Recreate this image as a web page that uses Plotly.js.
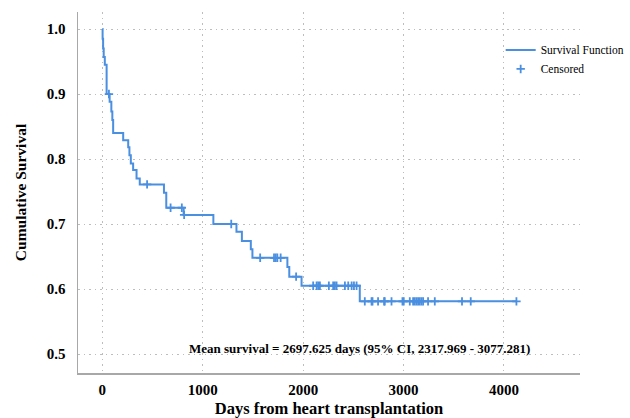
<!DOCTYPE html>
<html>
<head>
<meta charset="utf-8">
<script src="https://cdn.plot.ly/plotly-3.0.1.min.js"></script>
<style>html,body{margin:0;padding:0;background:#fff;}#chart{width:630px;height:418px;}</style>
</head>
<body>
<div id="chart"></div>
<script>
// Kaplan-Meier step data (event day, survival after that day)
const eventDays = [0, 3, 8, 14, 25, 43, 73, 90, 100, 108, 208, 258, 270, 284, 307, 341, 373, 614, 637, 810, 1106, 1336, 1390, 1479, 1495, 1843, 1862, 1984, 2564, 4124];
const survival  = [1.0, 0.985, 0.97, 0.957, 0.945, 0.9, 0.888, 0.873, 0.86, 0.84, 0.829, 0.818, 0.806, 0.793, 0.783, 0.770, 0.761, 0.748, 0.725, 0.714, 0.700, 0.688, 0.674, 0.661, 0.648, 0.634, 0.619, 0.605, 0.581, 0.581];

// Censored observations
const censoredDays = [66, 446, 680, 792, 815, 1284, 1572, 1710, 1727, 1743, 1776, 1930,
  2100, 2134, 2150, 2167, 2256, 2299, 2316, 2333, 2416, 2449, 2483, 2506, 2532,
  2614, 2681, 2691, 2746, 2806, 2813, 2880, 2989, 3002, 3062, 3095, 3112, 3129, 3145, 3162, 3179, 3195, 3244, 3311, 3582, 3669, 4124];
const censoredSurv = [0.9, 0.761, 0.725, 0.725, 0.714, 0.700, 0.648, 0.648, 0.648, 0.648, 0.648, 0.619,
  0.605, 0.605, 0.605, 0.605, 0.605, 0.605, 0.605, 0.605, 0.605, 0.605, 0.605, 0.605, 0.605,
  0.581, 0.581, 0.581, 0.581, 0.581, 0.581, 0.581, 0.581, 0.581, 0.581, 0.581, 0.581, 0.581, 0.581, 0.581, 0.581, 0.581, 0.581, 0.581, 0.581, 0.581, 0.581];

const xTicks = [0, 1000, 2000, 3000, 4000];
const yTicks = [0.5, 0.6, 0.7, 0.8, 0.9, 1.0];
const annotationText = "Mean survival = 2697.625 days (95% CI, 2317.969 - 3077.281)";

const blue = '#4a8fe0';
const serif = '"Liberation Serif", "Times New Roman", serif';

const traces = [
  {
    x: eventDays, y: survival, type: 'scatter', mode: 'lines',
    line: {shape: 'hv', color: blue, width: 2},
    name: 'Survival Function'
  },
  {
    x: censoredDays, y: censoredSurv, type: 'scatter', mode: 'markers',
    marker: {symbol: 'cross-thin', size: 6, line: {color: blue, width: 1.8}, color: blue},
    name: 'Censored'
  }
];

const layout = {
  width: 630, height: 418,
  margin: {l: 78, r: 50, t: 12, b: 45, autoexpand: false},
  paper_bgcolor: '#fff', plot_bgcolor: '#fff',
  showlegend: true,
  legend: {x: 0.842, y: 0.935, xanchor: 'left', yanchor: 'top', bgcolor: 'rgba(0,0,0,0)',
    font: {family: serif, size: 11.5, color: '#000'}, tracegroupgap: 0, itemwidth: 30},
  xaxis: {
    range: [-242, 4757], tickvals: xTicks, ticktext: xTicks.map(String),
    showgrid: true, gridcolor: '#bdbdbd', griddash: '1.5px,4px', gridwidth: 1,
    zeroline: false, showline: true, linecolor: '#a8a8a8', linewidth: 1.5,
    ticks: 'outside', ticklen: 2, tickcolor: 'rgba(0,0,0,0)',
    tickfont: {family: serif, size: 15, color: '#000', weight: 'bold'},
    title: {text: '<b>Days from heart transplantation</b>', font: {family: serif, size: 16.5, color: '#000'}, standoff: 7}
  },
  yaxis: {
    range: [0.4708, 1.0262], tickvals: yTicks, ticktext: yTicks.map(v => v.toFixed(1)),
    showgrid: true, gridcolor: '#bdbdbd', griddash: '1.5px,4px', gridwidth: 1,
    zeroline: false, showline: true, linecolor: '#a8a8a8', linewidth: 1.5,
    ticks: 'outside', ticklen: 8, tickcolor: 'rgba(0,0,0,0)',
    tickfont: {family: serif, size: 15, color: '#000', weight: 'bold'},
    title: {text: '<b>Cumulative Survival</b>', font: {family: serif, size: 15.5, color: '#000'}, standoff: 16}
  },
  annotations: [{
    x: 2560, y: 0.509, xref: 'x', yref: 'y', showarrow: false,
    text: '<b>' + annotationText + '</b>',
    font: {family: serif, size: 13, color: '#000'}
  }]
};

Plotly.newPlot('chart', traces, layout, {displayModeBar: false, staticPlot: true});
</script>
</body>
</html>
